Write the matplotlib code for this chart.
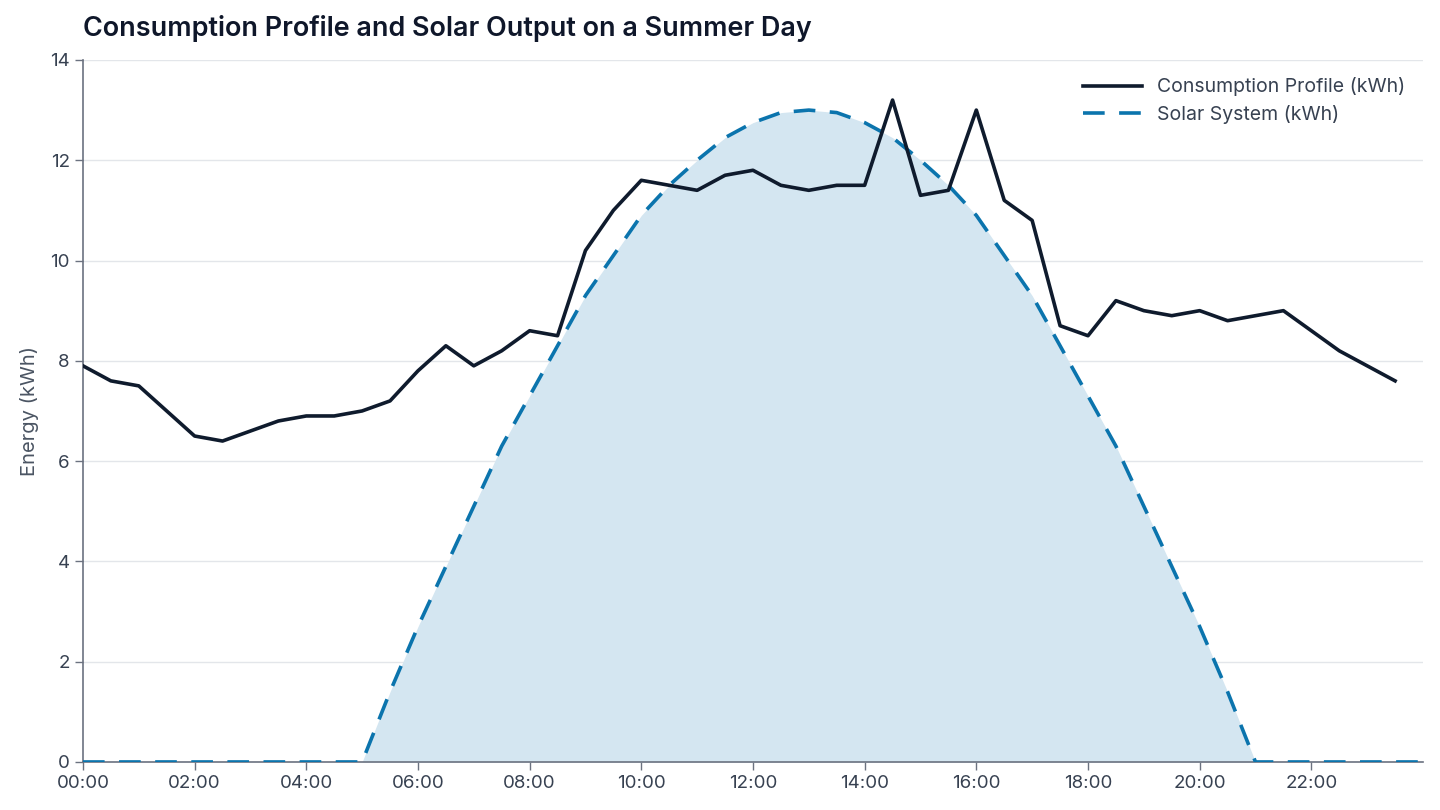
import numpy as np
import matplotlib
matplotlib.use("Agg")
import matplotlib.pyplot as plt

plt.rcParams['font.family'] = ['Inter', 'DejaVu Sans']

# half-hourly consumption, 00:00 .. 23:30
cons_hours = np.arange(0, 24, 0.5)
consumption = [7.9, 7.6, 7.5, 7.0, 6.5, 6.4, 6.6, 6.8, 6.9, 6.9,
               7.0, 7.2, 7.8, 8.3, 7.9, 8.2, 8.6, 8.5, 10.2, 11.0,
               11.6, 11.5, 11.4, 11.7, 11.8, 11.5, 11.4, 11.5, 11.5, 13.2,
               11.3, 11.4, 13.0, 11.2, 10.8, 8.7, 8.5, 9.2, 9.0, 8.9,
               9.0, 8.8, 8.9, 9.0, 8.6, 8.2, 7.9, 7.6]

# half-hourly solar output, 00:00 .. 24:00
solar_hours = np.arange(0, 24.5, 0.5)
solar = [0, 0, 0, 0, 0, 0, 0, 0, 0, 0,
         0, 1.4, 2.7, 3.9, 5.1, 6.3, 7.3, 8.3, 9.3, 10.1,
         10.9, 11.5, 12.0, 12.45, 12.75, 12.95, 13.0, 12.95, 12.75, 12.45,
         12.0, 11.5, 10.9, 10.1, 9.3, 8.3, 7.3, 6.3, 5.1, 3.9,
         2.7, 1.4, 0, 0, 0, 0, 0, 0, 0]

tick_hours = list(range(0, 24, 2))
tick_labels = [f"{h:02d}:00" for h in tick_hours]

navy = '#0f1b2d'
blue = '#0b74ad'
grey = '#6b7280'

fig = plt.figure(figsize=(14.4, 8.1), dpi=100)
ax = fig.add_axes([0.0576, 0.0593, 0.9306, 0.8667])

ax.fill_between(solar_hours, solar, 0, color='#d4e6f1', linewidth=0, zorder=1)
ax.plot(solar_hours, solar, color=blue, linestyle=(0, (6, 4)), linewidth=2.6,
        label='Solar System (kWh)', zorder=3)
ax.plot(cons_hours, consumption, color=navy, linewidth=2.6,
        label='Consumption Profile (kWh)', zorder=4)

ax.set_xlim(0, 24)
ax.set_ylim(0, 14)
ax.set_xticks(tick_hours)
ax.set_xticklabels(tick_labels)
ax.set_yticks(range(0, 15, 2))

ax.grid(axis='y', color='#e3e6ea', linewidth=1)
ax.set_axisbelow(True)
for s in ['top', 'right']:
    ax.spines[s].set_visible(False)
for s in ['left', 'bottom']:
    ax.spines[s].set_color(grey)
    ax.spines[s].set_linewidth(1.2)
ax.tick_params(axis='both', colors=grey, labelcolor='#374151', labelsize=13.5,
               length=6, width=1)

ax.set_ylabel('Energy (kWh)', fontsize=14.5, color='#4b5563', labelpad=8)

handles, labels = ax.get_legend_handles_labels()
leg = ax.legend(handles[::-1], labels[::-1], loc='upper right', frameon=False,
                fontsize=14, handlelength=3.0, borderaxespad=0.5,
                labelspacing=0.45)
for t in leg.get_texts():
    t.set_color('#374151')

fig.text(0.0576, 0.965, 'Consumption Profile and Solar Output on a Summer Day',
         fontsize=19.4, fontweight='semibold', color='#0f172a', va='center', ha='left')

fig.savefig('out.png', dpi=100)
